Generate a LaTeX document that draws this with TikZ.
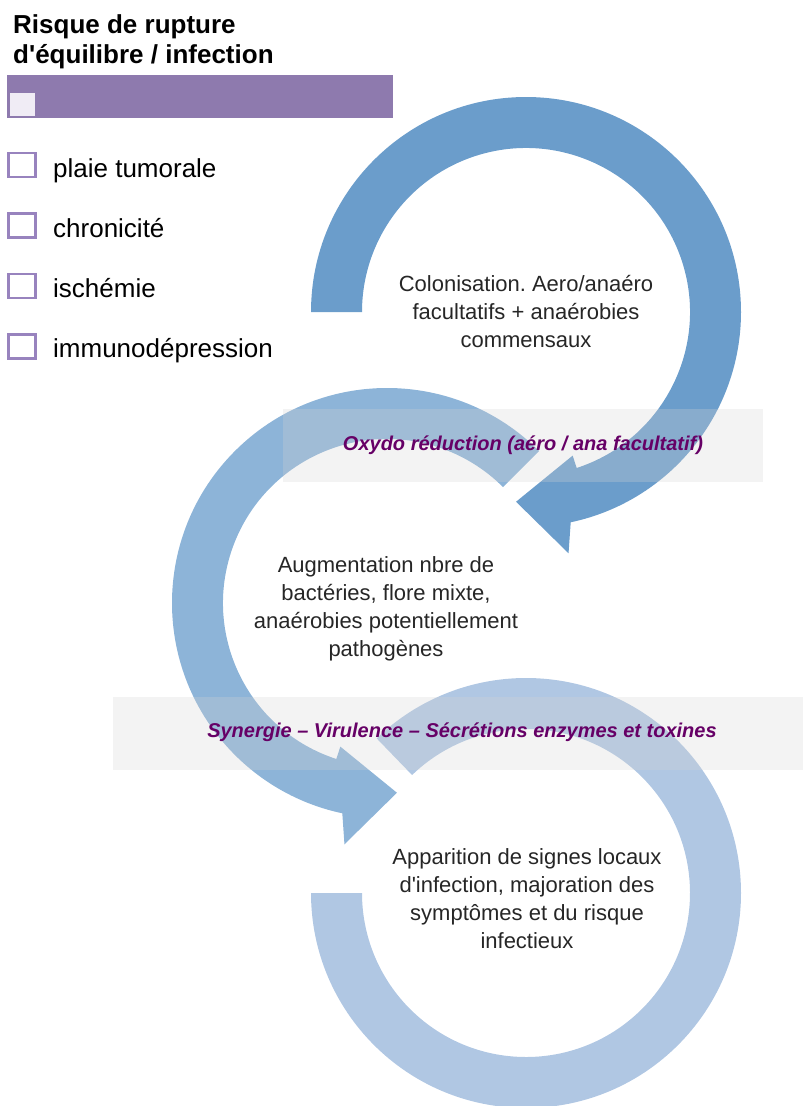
\documentclass[tikz,border=0pt]{standalone}
\usepackage{fontspec}
\setmainfont{Liberation Sans}[Ligatures=TeXOff]
\usetikzlibrary{calc}
\frenchspacing

\definecolor{ringA}{RGB}{107,157,203}
\definecolor{ringB}{RGB}{141,180,216}
\definecolor{ringC}{RGB}{176,199,227}
\definecolor{bandgray}{RGB}{212,212,212}
\definecolor{lilas}{RGB}{142,122,174}
\definecolor{lilasbord}{RGB}{152,131,190}
\definecolor{lilasclair}{RGB}{240,236,245}
\definecolor{prune}{RGB}{102,0,102}

\tikzset{
  bande/.style={fill=bandgray, fill opacity=0.28},
  bandetexte/.style={text=prune, inner sep=0pt, anchor=base,
    font=\fontsize{20}{24}\selectfont\bfseries\itshape},
  cercletexte/.style={text=black!85, inner sep=0pt, align=center,
    font=\fontsize{22}{28}\selectfont},
  case/.style={draw=lilasbord, line width=2.9pt, fill=white,
    minimum width=27pt, minimum height=24pt, inner sep=0pt},
  etiquette/.style={inner sep=0pt, anchor=base west,
    font=\fontsize{26}{30}\selectfont},
}

\begin{document}
\begin{tikzpicture}[x=1pt, y=1pt]
  \useasboundingbox (0,0) rectangle (803,-1106);

  % Centres des trois cercles
  \coordinate (C1) at (526,-312);
  \coordinate (C2) at (387,-603);
  \coordinate (C3) at (526,-893);

  % Fleche circulaire du haut
  \fill[ringA] ($(C1)+(180:215)$) arc[start angle=180, end angle=-78, radius=215pt]
    -- ($(C1)+(-80:245)$) -- ($(C1)+(-93:190)$) -- ($(C1)+(-72:151)$)
    -- ($(C1)+(-72:164)$) arc[start angle=-72, end angle=180, radius=164pt] -- cycle;

  % Fleche circulaire du milieu
  \fill[ringB] ($(C2)+(45:215)$) arc[start angle=45, end angle=258, radius=215pt]
    -- ($(C2)+(260:245)$) -- ($(C2)+(273:190)$) -- ($(C2)+(252:151)$)
    -- ($(C2)+(252:164)$) arc[start angle=252, end angle=45, radius=164pt] -- cycle;

  % Anneau du bas
  \fill[ringC] ($(C3)+(180:215)$) arc[start angle=180, end angle=494, radius=215pt]
    -- ($(C3)+(134:164)$) arc[start angle=134, end angle=-180, radius=164pt] -- cycle;

  % Bandes grises
  \fill[bande] (283,-409) rectangle (763,-482);
  \fill[bande] (113,-697) rectangle (803,-770);

  % Textes des bandes
  \node[bandetexte] (oxydo) at (523,-450) {Oxydo réduction (aéro / ana facultatif)};
  \node[bandetexte] (synergie) at (462,-737) {Synergie – Virulence – Sécrétions enzymes et toxines};

  % Textes des cercles
  \node[cercletexte] (colonisation) at (526,-312)
    {Colonisation. Aero/anaéro\\facultatifs + anaérobies\\commensaux};
  \node[cercletexte] (augmentation) at (386,-609)
    {Augmentation nbre de\\bactéries, flore mixte,\\anaérobies potentiellement\\pathogènes};
  \node[cercletexte] (apparition) at (527,-899)
    {Apparition de signes locaux\\d'infection, majoration des\\symptômes et du risque\\infectieux};

  % Titre
  \node[inner sep=0pt, anchor=north west, align=left,
    font=\fontsize{26}{30}\selectfont\bfseries] (titre) at (13,-14.5)
    {Risque de rupture\\d'équilibre / infection};

  % Barre violette
  \fill[lilas] (7,-75) rectangle (393,-118);
  \fill[lilasclair] (10,-93) rectangle (35,-116);

  % Cases et facteurs
  \node[case] (case1) at (22.3,-165) {};
  \node[etiquette] (plaie) at (53,-177) {plaie tumorale};

  \node[case] (case2) at (22.3,-225.5) {};
  \node[etiquette] (chronicite) at (53,-237) {chronicité};

  \node[case] (case3) at (22.3,-286) {};
  \node[etiquette] (ischemie) at (53,-297) {ischémie};

  \node[case] (case4) at (22.3,-346.5) {};
  \node[etiquette] (immuno) at (53,-357.5) {immunodépression};
\end{tikzpicture}
\end{document}
